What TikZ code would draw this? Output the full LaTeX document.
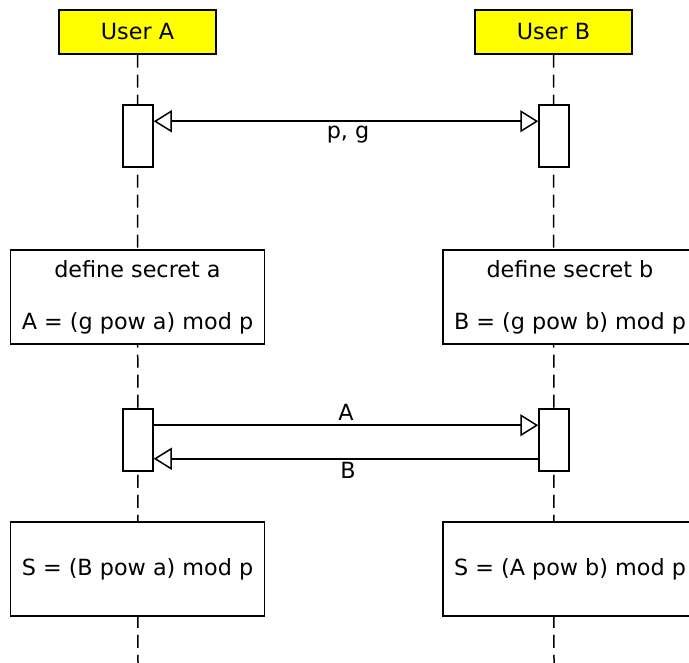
\documentclass[tikz,border=0pt]{standalone}
\usepackage{fontspec}
\setmainfont{DejaVu Sans}
\usetikzlibrary{arrows.meta}
\definecolor{uyellow}{RGB}{255,255,0}
\begin{document}
\begin{tikzpicture}[x=1pt,y=-1pt,
  every node/.style={font=\fontsize{22.3}{26.5}\selectfont},
  actor/.style={draw=black,fill=uyellow,line width=1.5pt,minimum width=157pt,minimum height=44pt,inner sep=0pt},
  act/.style={draw=black,fill=white,line width=1.5pt,minimum width=30pt,minimum height=62pt,inner sep=0pt},
  note/.style={draw=black,fill=white,line width=1.5pt,minimum width=254pt,minimum height=94pt,inner sep=0pt,align=center},
  life/.style={draw=black,line width=1.5pt,dash pattern=on 13pt off 7pt},
  msg/.style={draw=black,line width=1.5pt,-{Triangle[open,length=18pt,width=22pt,fill=white]}},
  bimsg/.style={draw=black,line width=1.5pt,{Triangle[open,length=18pt,width=22pt,fill=white]}-{Triangle[open,length=18pt,width=22pt,fill=white]}},
  lbl/.style={inner sep=0pt}]
\useasboundingbox (0,0) rectangle (689,663);
\coordinate (endA) at (138,663);
\coordinate (endB) at (554,663);
\node[actor] (ua) at (137.5,32) {User A};
\node[actor] (ub) at (553.5,32) {User B};
\draw[life] (ua.south) -- (endA);
\draw[life] (ub.south) -- (endB);
\node[act] (a1) at (138,136) {};
\node[act] (b1) at (554,136) {};
\node[note] (na) at (137.5,297) {define secret a\\[25.5pt]A = (g pow a) mod p};
\node[note] (nb) at (570,297) {define secret b\\[25.5pt]B = (g pow b) mod p};
\node[act] (a2) at (138,440) {};
\node[act] (b2) at (554,440) {};
\node[note] (sa) at (137.5,569) {S = (B pow a) mod p};
\node[note] (sb) at (570,569) {S = (A pow b) mod p};
\draw[bimsg] ([yshift=-17pt]a1.north east) -- ([yshift=-17pt]b1.north west);
\node[lbl] (lpg) at (348,135) {p, g};
\draw[msg] ([yshift=-17pt]a2.north east) -- ([yshift=-17pt]b2.north west);
\node[lbl] (la) at (346,412) {A};
\draw[msg] ([yshift=13pt]b2.south west) -- ([yshift=13pt]a2.south east);
\node[lbl] (lb) at (348,470) {B};
\end{tikzpicture}
\end{document}
